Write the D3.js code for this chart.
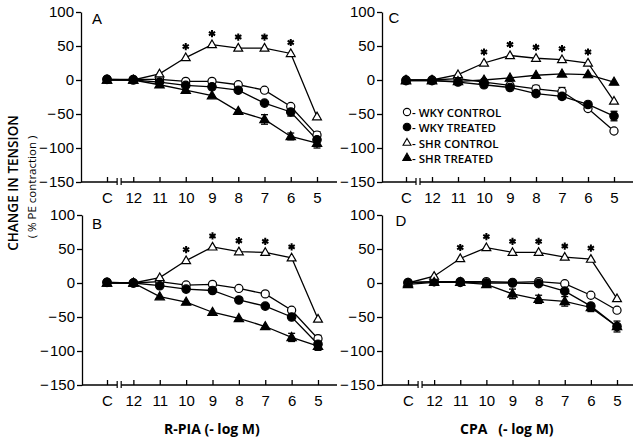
<!DOCTYPE html>
<html><head><meta charset="utf-8">
<script src="https://cdn.jsdelivr.net/npm/d3@7"></script>
<style>html,body{margin:0;padding:0;background:#fff;} svg{display:block;}</style>
</head><body>
<script>
// ---------- data ----------
const xLabels = ["C","12","11","10","9","8","7","6","5"];
const yTicks = [100, 50, 0, -50, -100, -150];
const seriesNames = ["WKY CONTROL","WKY TREATED","SHR CONTROL","SHR TREATED"];

// Panel A (R-PIA)
const A_wkyControl = [1, 1, 1, -2, -2, -7, -15, -39, -81];
const A_wkyTreated = [1, 0, -3, -8, -10, -15, -34, -47, -88];
const A_shrControl = [0, 0, 9, 33, 52, 47, 47, 39, -54];
const A_shrTreated = [0, 0, -7, -15, -23, -46, -58, -83, -93];
const A_wkyTreatedErr = [0,0,0,0,0,0,0,6,9];
const A_shrTreatedErr = [0,0,0,0,0,0,7,5,7];
const A_wkyControlErr = [0,0,0,0,0,0,0,0,5];
const A_stars = ["10","9","8","7","6"];

// Panel B (R-PIA)
const B_wkyControl = [1, 0, 2, -3, -2, -8, -16, -40, -82];
const B_wkyTreated = [1, 0, -4, -9, -11, -25, -34, -50, -90];
const B_shrControl = [0, 0, 8, 33, 53, 46, 45, 37, -53];
const B_shrTreated = [0, 0, -20, -28, -43, -52, -64, -80, -93];
const B_wkyTreatedErr = [0,0,0,0,0,0,0,0,9];
const B_shrTreatedErr = [0,0,0,0,0,0,0,6,0];
const B_wkyControlErr = [0,0,0,0,0,0,0,0,5];
const B_stars = ["10","9","8","7","6"];

// Panel C (CPA)
const C_wkyControl = [0, 0, 2, -3, -8, -13, -17, -42, -75];
const C_wkyTreated = [-1, -1, -3, -7, -11, -20, -24, -36, -53];
const C_shrControl = [0, 0, 8, 25, 36, 32, 30, 25, -31];
const C_shrTreated = [-1, -1, -2, 0, 3, 7, 9, 8, -3];
const C_wkyTreatedErr = [0,0,0,0,0,3,4,0,7];
const C_wkyControlErr = [0,0,0,0,0,5,6,0,0];
const C_shrTreatedErr = [0,0,0,0,0,0,0,0,0];
const C_stars = ["10","9","8","7","6"];

// Panel D (CPA)
const D_wkyControl = [1, 2, 2, 2, 1, 2, -1, -18, -40];
const D_wkyTreated = [0, 2, 1, 0, 0, -1, -12, -34, -64];
const D_shrControl = [0, 10, 36, 52, 45, 45, 38, 35, -23];
const D_shrTreated = [-2, 1, 1, -2, -16, -24, -27, -36, -64];
const D_wkyTreatedErr = [0,0,0,0,0,0,0,0,8];
const D_shrTreatedErr = [0,0,0,0,7,6,7,6,0];
const D_wkyControlErr = [0,0,0,0,0,0,0,0,0];
const D_stars = ["11","10","9","8","7","6"];

const panelData = {
  A: {series:[A_wkyControl, A_wkyTreated, A_shrControl, A_shrTreated], err:[A_wkyControlErr, A_wkyTreatedErr, null, A_shrTreatedErr], stars:A_stars},
  B: {series:[B_wkyControl, B_wkyTreated, B_shrControl, B_shrTreated], err:[B_wkyControlErr, B_wkyTreatedErr, null, B_shrTreatedErr], stars:B_stars},
  C: {series:[C_wkyControl, C_wkyTreated, C_shrControl, C_shrTreated], err:[C_wkyControlErr, C_wkyTreatedErr, null, C_shrTreatedErr], stars:C_stars},
  D: {series:[D_wkyControl, D_wkyTreated, D_shrControl, D_shrTreated], err:[D_wkyControlErr, D_wkyTreatedErr, null, D_shrTreatedErr], stars:D_stars}
};

// ---------- layout ----------
const layout = {
  A: {ax: 81, top: 12, bot: 182, xEnd: 337, c0: 107, c5: 317, lx: 97, ly: 18},
  B: {ax: 82, top: 215, bot: 385, xEnd: 337, c0: 107, c5: 318, lx: 97, ly: 223},
  C: {ax: 382, top: 12, bot: 182, xEnd: 633, c0: 406, c5: 614, lx: 394, ly: 17},
  D: {ax: 382, top: 215, bot: 385, xEnd: 633, c0: 408, c5: 617, lx: 401, ly: 220}
};
const FONT = "'Liberation Sans', Arial, sans-serif";
const W = 640, H = 438;
const svg = d3.select("body").append("svg").attr("width", W).attr("height", H)
  .style("font-family", FONT);
svg.append("rect").attr("width", W).attr("height", H).attr("fill", "#fff");

const markerSym = [d3.symbolCircle, d3.symbolCircle, d3.symbolTriangle, d3.symbolTriangle];
const markerSize = [52, 56, 34, 38];
const markerFill = ["#fff", "#000", "#fff", "#000"];

Object.keys(layout).forEach(key => {
  const L = layout[key], P = panelData[key];
  const g = svg.append("g");
  const y = d3.scaleLinear().domain([-150, 100]).range([L.bot, L.top]);
  const x = d3.scalePoint().domain(xLabels).range([L.c0, L.c5]);

  // y axis
  const yAx = g.append("g").attr("transform", `translate(${L.ax},0)`)
    .call(d3.axisLeft(y).tickValues(yTicks).tickSizeInner(5).tickSizeOuter(0).tickPadding(2)
      .tickFormat(d => d < 0 ? "\u2212\u200A" + Math.abs(d) : d));
  yAx.select(".domain").attr("stroke", "#000").attr("stroke-width", 1.3);
  yAx.selectAll(".tick line").attr("stroke-width", 1.3);
  yAx.selectAll(".tick text").style("font-size", "15px").style("font-family", FONT).attr("fill", "#000");

  // x axis
  const xAx = g.append("g").attr("transform", `translate(0,${L.bot})`)
    .call(d3.axisBottom(x).tickSizeInner(-5).tickSizeOuter(0).tickPadding(10));
  xAx.select(".domain").attr("d", `M${L.ax},0H${L.xEnd}`).attr("stroke-width", 1.3);
  xAx.selectAll(".tick line").attr("stroke-width", 1.3);
  xAx.selectAll(".tick text").style("font-size", "15px").style("font-family", FONT).attr("fill", "#000");
  // axis break between C and 12
  const bx = (x("C") + x("12")) / 2 - 1;
  xAx.append("rect").attr("x", bx - 2).attr("y", -1.5).attr("width", 4).attr("height", 3).attr("fill", "#fff");
  [-2, 2].forEach(o => xAx.append("line").attr("x1", bx + o).attr("x2", bx + o)
    .attr("y1", -4).attr("y2", 3).attr("stroke", "#000").attr("stroke-width", 1.2));

  // panel letter
  g.append("text").attr("x", L.lx).attr("y", L.ly).attr("text-anchor", "middle")
    .attr("dominant-baseline", "central").style("font-size", "15px").text(key);

  const line = d3.line().x((d, i) => x(xLabels[i])).y(d => y(d));
  // lines
  P.series.forEach((s, si) => {
    g.append("path").datum(s).attr("d", line).attr("fill", "none")
      .attr("stroke", "#000").attr("stroke-width", 1.3);
  });
  // error bars
  P.series.forEach((s, si) => {
    const e = P.err[si];
    if (!e) return;
    s.forEach((v, i) => {
      if (!e[i]) return;
      const cx = x(xLabels[i]);
      g.append("line").attr("x1", cx).attr("x2", cx).attr("y1", y(v - e[i])).attr("y2", y(v + e[i]))
        .attr("stroke", "#000").attr("stroke-width", 1.3);
      [v - e[i], v + e[i]].forEach(t => g.append("line").attr("x1", cx - 3.5).attr("x2", cx + 3.5)
        .attr("y1", y(t)).attr("y2", y(t)).attr("stroke", "#000").attr("stroke-width", 1.3));
    });
  });
  // markers
  P.series.forEach((s, si) => {
    g.selectAll(null).data(s).enter().append("path")
      .attr("transform", (d, i) => `translate(${x(xLabels[i])},${y(d) + (si >= 2 ? 0.5 : 0)})`)
      .attr("d", d3.symbol().type(markerSym[si]).size(markerSize[si]))
      .attr("fill", markerFill[si]).attr("stroke", "#000").attr("stroke-width", 1.2);
  });
  // significance stars above SHR control
  P.stars.forEach(lbl => {
    const i = xLabels.indexOf(lbl);
    g.append("path").attr("transform", `translate(${x(lbl)},${y(P.series[2][i]) - 11})`)
      .attr("d", d3.symbol().type(d3.symbolAsterisk).size(36))
      .attr("fill", "none").attr("stroke", "#000").attr("stroke-width", 2);
  });
});

// legend (in panel C)
const lg = svg.append("g");
const legY = [112, 127, 143, 158];
seriesNames.forEach((n, i) => {
  lg.append("path").attr("transform", `translate(407,${legY[i]})`)
    .attr("d", d3.symbol().type(markerSym[i]).size(markerSize[i] * 0.8))
    .attr("fill", markerFill[i]).attr("stroke", "#000").attr("stroke-width", 1.1);
  lg.append("text").attr("x", 412).attr("y", legY[i]).attr("dominant-baseline", "central")
    .style("font-size", "11.5px").style("font-weight", "600").style("font-family", "'Open Sans', sans-serif")
    .text("- " + n);
});

// axis titles
svg.append("text").attr("transform", "translate(13,183) rotate(-90)").attr("text-anchor", "middle")
  .attr("dominant-baseline", "central").style("font-size", "13.5px").style("font-family", "'Open Sans', sans-serif")
  .style("font-weight", "600").text("CHANGE IN TENSION");
svg.append("text").attr("transform", "translate(31,187) rotate(-90)").attr("text-anchor", "middle")
  .attr("dominant-baseline", "central").style("font-size", "11.5px").style("font-family", "'Open Sans', sans-serif")
  .text("( % PE contraction )");
svg.append("text").attr("x", 164).attr("y", 428).attr("dominant-baseline", "central")
  .style("font-size", "14px").style("font-weight", "bold").style("font-family", "'Open Sans', sans-serif")
  .text("R-PIA (- log M)");
svg.append("text").attr("x", 460).attr("y", 428).attr("dominant-baseline", "central")
  .style("font-size", "14px").style("font-weight", "bold").style("font-family", "'Open Sans', sans-serif")
  .style("white-space", "pre").text("CPA   (- log M)");
</script>
</body></html>
